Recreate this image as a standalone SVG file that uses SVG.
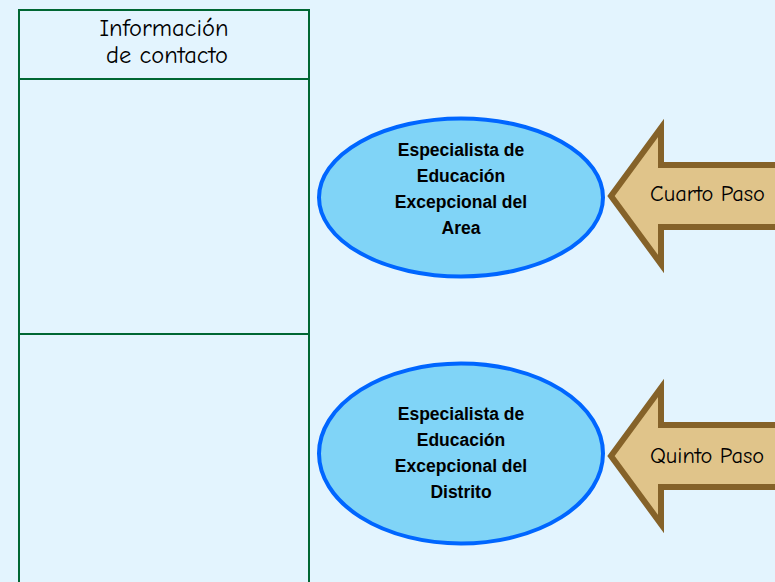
<svg xmlns="http://www.w3.org/2000/svg" width="775" height="582" viewBox="0 0 775 582">
<style>
.tbl{fill:none;stroke:#006633;stroke-width:2}
.ell{fill:#80d4f7;stroke:#0066ff;stroke-width:4}
.arr{fill:#e0c48a;stroke:#856229;stroke-width:6;stroke-linejoin:miter}
.hdr{font-family:"Comic Neue","DejaVu Sans","Liberation Sans",sans-serif;font-size:24.5px;fill:#000;text-anchor:middle}
.lbl{font-family:"Liberation Sans",Arial,sans-serif;font-weight:bold;font-size:17.5px;fill:#000;text-anchor:middle}
.step{font-family:"Comic Neue","DejaVu Sans","Liberation Sans",sans-serif;font-size:22.4px;fill:#000}
</style>
<rect width="775" height="582" fill="#e3f4fe"/>
<g id="table">
<rect class="tbl" x="19" y="10" width="290" height="590"/>
<line class="tbl" x1="19" y1="79" x2="309" y2="79"/>
<line class="tbl" x1="19" y1="334" x2="309" y2="334"/>
<text class="hdr" x="164" y="36">Información</text>
<text class="hdr" x="167" y="63">de contacto</text>
</g>
<g id="node-area">
<ellipse class="ell" cx="461" cy="197.5" rx="142" ry="79"/>
<text class="lbl" x="461" y="156">Especialista de</text>
<text class="lbl" x="461" y="182">Educación</text>
<text class="lbl" x="461" y="208">Excepcional del</text>
<text class="lbl" x="461" y="234">Area</text>
</g>
<g id="node-distrito">
<ellipse class="ell" cx="461" cy="453.5" rx="142" ry="90"/>
<text class="lbl" x="461" y="420">Especialista de</text>
<text class="lbl" x="461" y="446">Educación</text>
<text class="lbl" x="461" y="472">Excepcional del</text>
<text class="lbl" x="461" y="498">Distrito</text>
</g>
<g id="arrow-cuarto">
<path class="arr" d="M611,196 L661,128 L661,165 L780,165 L780,227 L661,227 L661,264 Z"/>
<text class="step" x="650" y="201">Cuarto Paso</text>
</g>
<g id="arrow-quinto">
<path class="arr" d="M611,456 L661,388 L661,425 L780,425 L780,487 L661,487 L661,524 Z"/>
<text class="step" x="650" y="463">Quinto Paso</text>
</g>
<g id="connectors"></g>
</svg>
